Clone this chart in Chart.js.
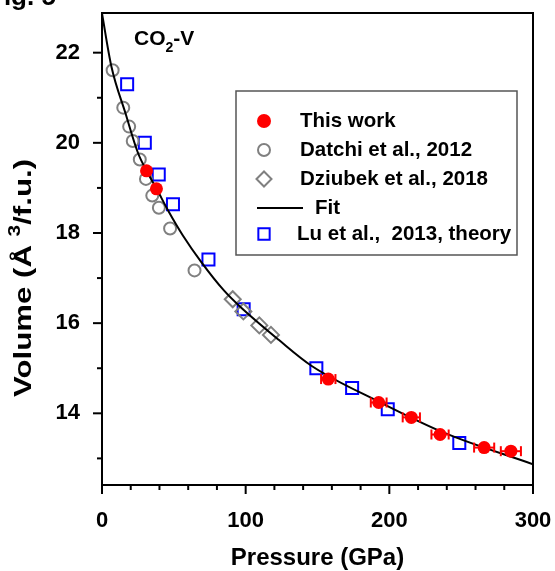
<!DOCTYPE html>
<html>
<head>
<meta charset="utf-8">
<script src="https://cdn.jsdelivr.net/npm/chart.js@4.4.1/dist/chart.umd.min.js"></script>
<style>
  html, body { margin: 0; padding: 0; background: #fff; }
  canvas { display: block; }
</style>
</head>
<body>
<canvas id="eos-chart" width="555" height="571"></canvas>
<script>
// CO2-V equation of state: pressure in GPa, volume in A^3 per formula unit
const thisWorkP = [31, 37.9, 157.5, 192.6, 215.3, 235.3, 266, 284.6];
const thisWorkV = [19.38, 18.98, 14.76, 14.24, 13.91, 13.53, 13.24, 13.16];
const thisWorkErr = [0, 0, 5, 5.5, 6, 6, 7, 7];

const datchiP = [7.4, 14.8, 18.9, 21.4, 26.3, 30.6, 35.0, 39.6, 47.4, 64.4];
const datchiV = [21.61, 20.78, 20.36, 20.04, 19.63, 19.2, 18.83, 18.56, 18.1, 17.17];

const dziubekP = [91, 98.4, 109.5, 117.6];
const dziubekV = [16.53, 16.26, 15.95, 15.74];

const luP = [17.5, 29.8, 39.5, 49.4, 74.1, 98.6, 149.2, 174.1, 198.9, 248.7];
const luV = [21.3, 20.0, 19.3, 18.64, 17.41, 16.31, 15.0, 14.56, 14.09, 13.34];

const fitP = [0, 6.5, 16.4, 25, 31, 38, 46, 56.4, 69, 85, 96, 123, 146, 192.6, 238.8, 300];
const fitV = [22.87, 21.70, 20.65, 19.78, 19.38, 18.98, 18.50, 17.94, 17.36, 16.72, 16.37, 15.63, 15.05, 14.26, 13.56, 12.87];

const xTicks = [0, 100, 200, 300];
const yTicks = [14, 16, 18, 20, 22];

const FONT = "'Liberation Sans', Arial, sans-serif";
const GRAY = '#808080';

const toXY = (xs, ys) => xs.map((x, i) => ({ x: x, y: ys[i] }));

const line = (ctx, x1, y1, x2, y2) => {
  ctx.beginPath();
  ctx.moveTo(x1, y1);
  ctx.lineTo(x2, y2);
  ctx.stroke();
};

const datasets = [
  {
    label: 'This work',
    data: toXY(thisWorkP, thisWorkV),
    pointStyle: 'circle',
    pointRadius: 6.5,
    pointBackgroundColor: '#ff0000',
    pointBorderColor: '#ff0000',
    pointBorderWidth: 0,
  },
  {
    label: 'Fit',
    data: toXY(fitP, fitV),
    showLine: true,
    pointRadius: 0,
    borderColor: '#000',
    borderWidth: 2,
    cubicInterpolationMode: 'monotone',
  },
  {
    label: 'Dziubek et al., 2018',
    data: toXY(dziubekP, dziubekV),
    pointStyle: 'rectRot',
    pointRadius: 8,
    pointBackgroundColor: 'rgba(0,0,0,0)',
    pointBorderColor: GRAY,
    pointBorderWidth: 2,
  },
  {
    label: 'Datchi et al., 2012',
    data: toXY(datchiP, datchiV),
    pointStyle: 'circle',
    pointRadius: 6,
    pointBackgroundColor: 'rgba(0,0,0,0)',
    pointBorderColor: GRAY,
    pointBorderWidth: 2,
  },
  {
    label: 'Lu et al.,  2013, theory',
    data: toXY(luP, luV),
    pointStyle: 'rect',
    pointRadius: 8.5,
    pointBackgroundColor: 'rgba(0,0,0,0)',
    pointBorderColor: '#0000ff',
    pointBorderWidth: 2,
  },
];

// keep the plot frame where the figure has it, ignore label overhang
const noOverhang = s => {
  s.paddingLeft = 0;
  s.paddingRight = 0;
  s.paddingTop = 0;
  s.paddingBottom = 0;
};

// error bars, frame, outward ticks, legend box and the loose labels
const decorations = {
  id: 'decorations',
  afterDatasetsDraw(chart) {
    const { ctx, scales: { x, y } } = chart;
    ctx.save();
    ctx.strokeStyle = '#ff0000';
    ctx.lineWidth = 2;
    thisWorkP.forEach((p, i) => {
      const e = thisWorkErr[i];
      if (!e) return;
      const py = y.getPixelForValue(thisWorkV[i]);
      const x1 = x.getPixelForValue(p - e);
      const x2 = x.getPixelForValue(p + e);
      line(ctx, x1, py, x2, py);
      line(ctx, x1, py - 5, x1, py + 5);
      line(ctx, x2, py - 5, x2, py + 5);
    });
    ctx.restore();
  },
  afterDraw(chart) {
    const { ctx, chartArea: a, scales: { x, y } } = chart;
    ctx.save();
    ctx.strokeStyle = '#000';
    ctx.lineWidth = 2;
    ctx.strokeRect(a.left, a.top, a.right - a.left, a.bottom - a.top);

    for (let p = 0; p <= 300; p += 20) {
      const px = x.getPixelForValue(p);
      line(ctx, px, a.bottom, px, a.bottom + (p % 100 === 0 ? 9 : 5));
    }
    for (let v = 13; v <= 22; v++) {
      const py = y.getPixelForValue(v);
      line(ctx, a.left, py, a.left - (v % 2 === 0 ? 9 : 5), py);
    }

    // legend
    ctx.fillStyle = '#fff';
    ctx.fillRect(236, 91, 281, 164);
    ctx.strokeStyle = '#555';
    ctx.lineWidth = 1.5;
    ctx.strokeRect(236, 91, 281, 164);

    const rows = [
      { ds: 0, y: 121, tx: 300 },
      { ds: 3, y: 150, tx: 300 },
      { ds: 2, y: 179, tx: 300 },
      { ds: 1, y: 208, tx: 315 },
      { ds: 4, y: 234, tx: 297 },
    ];
    ctx.font = 'bold 20.5px ' + FONT;
    ctx.textBaseline = 'middle';
    ctx.textAlign = 'left';
    rows.forEach(r => {
      const d = datasets[r.ds];
      if (d.showLine) {
        ctx.strokeStyle = '#000';
        ctx.lineWidth = 2;
        line(ctx, 257, r.y, 303, r.y);
      } else {
        ctx.fillStyle = d.pointBackgroundColor;
        ctx.strokeStyle = d.pointBorderColor;
        ctx.lineWidth = d.pointBorderWidth;
        const rad = d.pointStyle === 'rect' ? 8 : (d.pointStyle === 'rectRot' ? 7.5 : (r.ds === 0 ? 7 : 6));
        Chart.helpers.drawPoint(ctx, { pointStyle: d.pointStyle, radius: rad, rotation: 0, borderWidth: d.pointBorderWidth }, 264, r.y);
      }
      ctx.fillStyle = '#000';
      ctx.fillText(d.label, r.tx, r.y);
    });

    // CO2-V
    ctx.textBaseline = 'alphabetic';
    ctx.font = 'bold 21px ' + FONT;
    ctx.fillText('CO', 134, 45);
    let cx = 134 + ctx.measureText('CO').width;
    ctx.font = 'bold 14px ' + FONT;
    ctx.fillText('2', cx, 52);
    cx += ctx.measureText('2').width;
    ctx.font = 'bold 21px ' + FONT;
    ctx.fillText('-V', cx, 45);

    // cropped figure number at the very top
    ctx.font = 'bold 26px ' + FONT;
    ctx.fillText('Fig. 5', -12, 5);

    // x title
    ctx.font = 'bold 24px ' + FONT;
    ctx.textAlign = 'center';
    ctx.textBaseline = 'middle';
    ctx.fillText('Pressure (GPa)', (a.left + a.right) / 2, 558);

    // y title with superscript, stretched along its length like the figure
    ctx.translate(24, 278);
    ctx.rotate(-Math.PI / 2);
    ctx.scale(1.3, 1);
    ctx.textAlign = 'left';
    ctx.textBaseline = 'middle';
    const partA = 'Volume (\u00C5 ';
    const partB = '3';
    const partC = '/f.u.)';
    ctx.font = 'bold 24px ' + FONT;
    const wA = ctx.measureText(partA).width;
    const wC = ctx.measureText(partC).width;
    ctx.font = 'bold 16px ' + FONT;
    const wB = ctx.measureText(partB).width;
    let tx = -(wA + wB + wC) / 2;
    ctx.font = 'bold 24px ' + FONT;
    ctx.fillText(partA, tx, 0);
    tx += wA;
    ctx.font = 'bold 16px ' + FONT;
    ctx.fillText(partB, tx, -8);
    tx += wB;
    ctx.font = 'bold 24px ' + FONT;
    ctx.fillText(partC, tx, 0);
    ctx.restore();
  },
};

new Chart(document.getElementById('eos-chart'), {
  type: 'scatter',
  data: { datasets: datasets },
  options: {
    responsive: false,
    animation: false,
    events: [],
    layout: { padding: { left: 0, top: 13, right: 22, bottom: 0 } },
    plugins: { legend: { display: false }, tooltip: { enabled: false } },
    scales: {
      x: {
        type: 'linear',
        min: 0,
        max: 300,
        grid: { display: false, drawTicks: false },
        border: { display: false },
        afterBuildTicks: s => { s.ticks = xTicks.map(v => ({ value: v })); },
        afterFit: s => { s.height = 86; noOverhang(s); },
        ticks: { padding: 23, color: '#000', font: { family: FONT, size: 22, weight: 'bold' } },
      },
      y: {
        type: 'linear',
        min: 12.41,
        max: 22.88,
        grid: { display: false, drawTicks: false },
        border: { display: false },
        afterBuildTicks: s => { s.ticks = yTicks.map(v => ({ value: v })); },
        afterFit: s => { s.width = 102; noOverhang(s); },
        ticks: { padding: 22, color: '#000', font: { family: FONT, size: 22, weight: 'bold' } },
      },
    },
  },
  plugins: [decorations],
});
</script>
</body>
</html>
